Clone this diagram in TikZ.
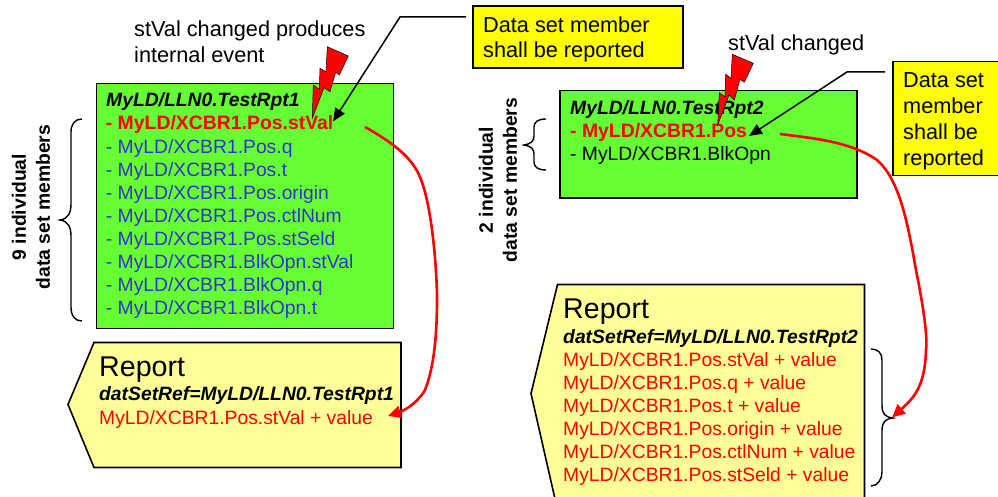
\documentclass[tikz,border=0pt]{standalone}
\usepackage{fontspec}
\setmainfont{Liberation Sans}
\usetikzlibrary{arrows.meta}
\definecolor{grn}{RGB}{102,255,51}
\definecolor{ylw}{RGB}{255,255,0}
\definecolor{pale}{RGB}{255,255,153}
\definecolor{blu}{RGB}{51,51,204}
\definecolor{rd}{RGB}{255,0,0}
\tikzset{
 txt/.style={inner sep=0pt,anchor=base west,font=\fontsize{19.3}{22}\selectfont},
 note/.style={txt,font=\fontsize{21.7}{24}\selectfont},
 big/.style={txt,font=\fontsize{28.6}{30}\selectfont},
 mem/.style={txt,text=blu},
 hot/.style={txt,text=rd,font=\fontsize{19.4}{22}\selectfont\bfseries},
 val/.style={txt,text=rd},
 ttl/.style={txt,font=\fontsize{19.3}{22}\selectfont\bfseries\itshape},
 vlab/.style={inner sep=0pt,rotate=90,align=center,font=\fontsize{19.3}{24}\selectfont\bfseries},
 box/.style={draw=black,line width=1.6pt},
 bolt/.style={fill=rd,draw=black,line width=0.5pt},
 blk/.style={draw=black,line width=1.5pt,-{Triangle[length=13pt,width=11pt]}},
 rarr/.style={draw=rd,line width=2.6pt,-{Triangle[length=13pt,width=12pt]}},
 brc/.style={draw=black,line width=1.4pt},
}
\begin{document}
\begin{tikzpicture}[x=1pt,y=-1pt]
\useasboundingbox (0,0) rectangle (998,497);
% boxes
\draw[box,fill=grn] (96.5,83.5) rectangle (393.5,328.5);
\draw[box,fill=grn] (560,90.5) rectangle (857,198);
\draw[box,fill=ylw] (473,6) rectangle (683,68);
\draw[box,fill=ylw] (893,61.5) rectangle (1010,175.5);
\draw[box,fill=pale] (94,342.5) -- (401,342.5) -- (401,467.5) -- (94,467.5) -- (68,404.5) -- cycle;
\draw[box,fill=pale] (557.5,284.5) -- (864.5,284.5) -- (864.5,510) -- (557.5,510) -- (531,393.5) -- cycle;
% texts left
\node[note] (a1) at (134,36.7) {stVal changed produces};
\node[note] (a2) at (134,62.5) {internal event};
\node[ttl] (t1) at (106,107) {MyLD/LLN0.TestRpt1};
\node[hot] (m1) at (105.7,130) {- MyLD/XCBR1.Pos.stVal};
\node[mem] (m2) at (105.7,153.5) {- MyLD/XCBR1.Pos.q};
\node[mem] (m3) at (105.7,176.5) {- MyLD/XCBR1.Pos.t};
\node[mem] (m4) at (105.7,199.5) {- MyLD/XCBR1.Pos.origin};
\node[mem] (m5) at (105.7,222.5) {- MyLD/XCBR1.Pos.ctlNum};
\node[mem] (m6) at (105.7,245.5) {- MyLD/XCBR1.Pos.stSeld};
\node[mem] (m7) at (105.7,268.5) {- MyLD/XCBR1.BlkOpn.stVal};
\node[mem] (m8) at (105.7,291.5) {- MyLD/XCBR1.BlkOpn.q};
\node[mem] (m9) at (105.7,314.5) {- MyLD/XCBR1.BlkOpn.t};
\node[big] (r1) at (99,376) {Report};
\node[ttl] (d1) at (99,400) {datSetRef=MyLD/LLN0.TestRpt1};
\node[val] (v1) at (99,424) {MyLD/XCBR1.Pos.stVal + value};
\node[note] (y1) at (483,33) {Data set member};
\node[note] (y2) at (483,58) {shall be reported};
% texts right
\node[note] (b1) at (728,51) {stVal changed};
\node[ttl] (t2) at (570,114.5) {MyLD/LLN0.TestRpt2};
\node[hot] (n1) at (570,138) {- MyLD/XCBR1.Pos};
\node[txt] (n2) at (570,160.5) {- MyLD/XCBR1.BlkOpn};
\node[note] (z1) at (903,88) {Data set};
\node[note] (z2) at (903,114) {member};
\node[note] (z3) at (903,140) {shall be};
\node[note] (z4) at (903,166) {reported};
\node[big] (r2) at (563,318) {Report};
\node[ttl] (d2) at (563,343.5) {datSetRef=MyLD/LLN0.TestRpt2};
\node[val] (w1) at (563,366.7) {MyLD/XCBR1.Pos.stVal + value};
\node[val] (w2) at (563,389.7) {MyLD/XCBR1.Pos.q + value};
\node[val] (w3) at (563,412.7) {MyLD/XCBR1.Pos.t + value};
\node[val] (w4) at (563,435.7) {MyLD/XCBR1.Pos.origin + value};
\node[val] (w5) at (563,458.7) {MyLD/XCBR1.Pos.ctlNum + value};
\node[val] (w6) at (563,481.7) {MyLD/XCBR1.Pos.stSeld + value};
% rotated
\node[vlab] (l1) at (31,207) {9 individual\\data set members};
\node[vlab] (l2) at (498,180) {2 individual\\data set members};
% bolts
\filldraw[bolt] (327.3,46.7) -- (348.3,56) -- (339.3,75) -- (335.7,72.3) -- (330,91.7) -- (324,87.7) -- (312.3,118.3) -- (313.3,85) -- (319.3,89.3) -- (320,68.3) -- (326,71.7) -- cycle;
\filldraw[bolt] (732.3,54.3) -- (753.3,63.3) -- (744.3,82.3) -- (740,79.3) -- (734.3,100) -- (729,95) -- (717.7,125) -- (719.3,92.7) -- (725,96.7) -- (725.7,74.3) -- (731,78.3) -- cycle;
% black arrows
\coordinate (c1) at (466,17);
\coordinate (c2) at (400,17);
\coordinate (c3) at (333,121.5);
\draw[blk] (c1) -- (c2) -- (c3);
\coordinate (e1) at (885,72);
\coordinate (e2) at (847,72);
\coordinate (e3) at (749,136);
\draw[blk] (e1) -- (e2) -- (e3);
% red arrows
\coordinate (f1) at (365,127);
\coordinate (f2) at (388,416);
\draw[rarr] (f1) .. controls (395,144) and (412,158) .. (420,177) .. controls (432,205) and (437,270) .. (437,300) .. controls (437,340) and (433,370) .. (425,390) .. controls (417,404) and (403,411) .. (f2);
\coordinate (h1) at (780,134);
\coordinate (h2) at (892,417.5);
\draw[rarr] (h1) .. controls (810,138) and (850,141) .. (877,160) .. controls (900,180) and (908,225) .. (916,270) .. controls (922,300) and (928,335) .. (926,350) .. controls (925,385) and (915,397) .. (h2);
% braces
\draw[brc] (82,119) .. controls (75,119) and (71,124) .. (71,132) -- (71,204) .. controls (71,213) and (68,219) .. (60,220) .. controls (68,221) and (71,227) .. (71,236) -- (71,307) .. controls (71,316) and (75,321) .. (82,321);
\draw[brc] (546,119) .. controls (538,119) and (534,122) .. (534,127) -- (534,136) .. controls (534,141) and (531,144) .. (524,145) .. controls (531,146) and (534,149) .. (534,154) -- (534,162) .. controls (534,167) and (538,170) .. (546,170);
\draw[brc] (871,349) .. controls (878,349) and (882,353) .. (882,360) -- (882,405) .. controls (882,414) and (885,417) .. (893,418) .. controls (885,419) and (882,422) .. (882,431) -- (882,472) .. controls (882,479) and (878,486) .. (871,486);
\end{tikzpicture}
\end{document}
